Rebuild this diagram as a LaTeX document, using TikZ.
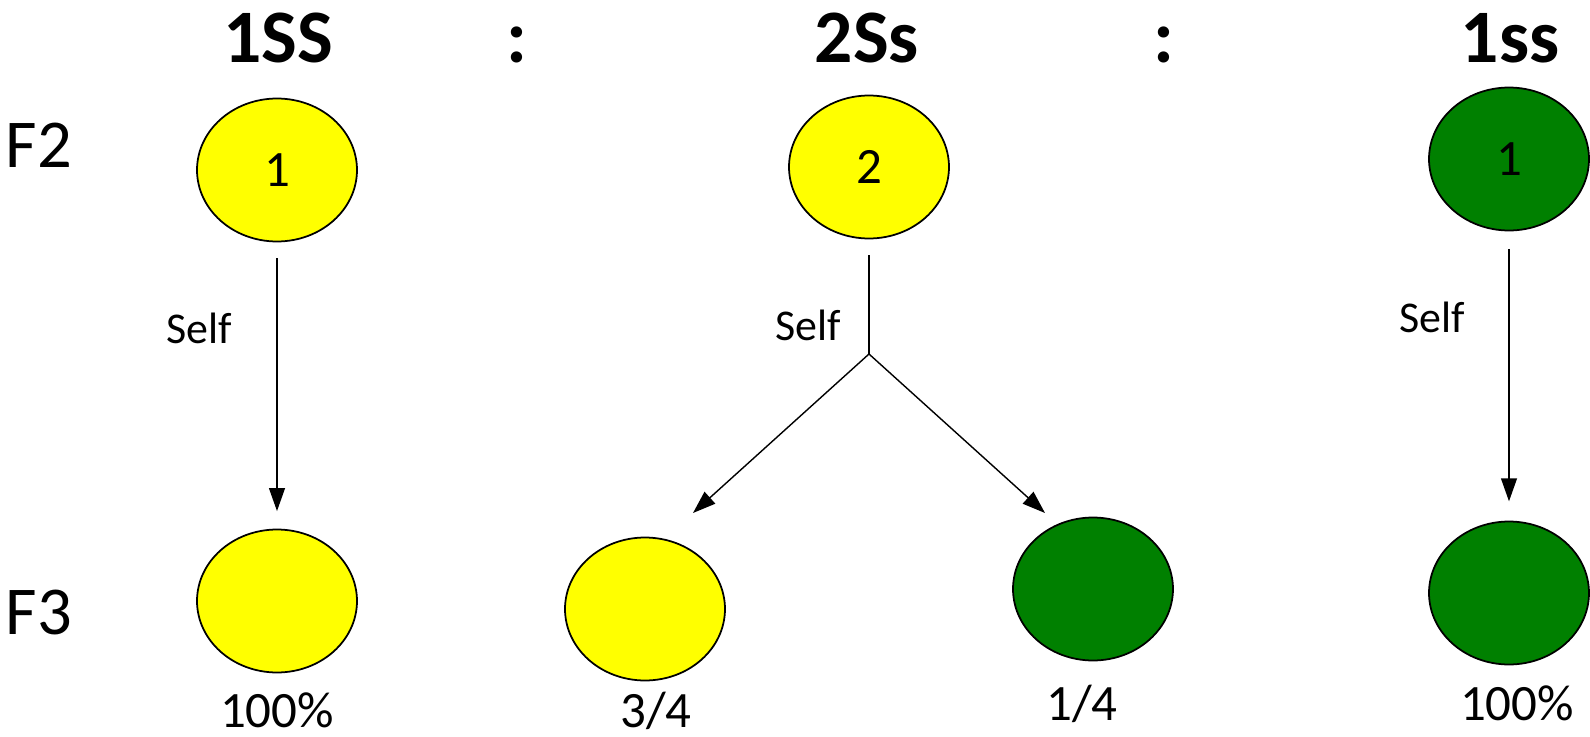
\documentclass[tikz,border=0pt]{standalone}
\usepackage{fontspec}
\setmainfont{Carlito}
\usetikzlibrary{shapes,arrows.meta,positioning}
\definecolor{seedgreen}{HTML}{008000}
\definecolor{seedyellow}{HTML}{FFFF00}
\tikzset{
    plant/.style={
    ellipse,draw=black,line width=1pt,minimum width=3.2cm,minimum height=2.86cm,inner sep=0pt,
    font=\fontsize{29}{34}\selectfont
    },
    yplant/.style={plant,fill=seedyellow},
    gplant/.style={plant,fill=seedgreen},
    geno/.style={anchor=base,font=\fontsize{43}{50}\selectfont\bfseries},
    gen/.style={anchor=base,font=\fontsize{39}{46}\selectfont},
    self/.style={anchor=base,font=\fontsize{25}{30}\selectfont},
    share/.style={anchor=base,font=\fontsize{29}{34}\selectfont},
    cross/.style={line width=0.8pt,-{Triangle[length=13pt,width=9pt]}},
}

\begin{document}
\begin{tikzpicture}[x=0.02cm,y=-0.02cm]
   \useasboundingbox (0,0) rectangle (1590,737);
   % genotype ratio along the top
   \node[geno] (SS)  at (278,62)  {1SS};
   \node[geno] (c1)  at (517,62)  {:};
   \node[geno] (Ss)  at (867,62)  {2Ss};
   \node[geno] (c2)  at (1164,62) {:};
   \node[geno] (ss)  at (1510,62) {1ss};
   \node[gen]  (F2)  at (39,167)  {F2};
   \node[gen]  (F3)  at (39,634)  {F3};

   % parents
   \node[yplant] (P1) at (277,170)  {1};
   \node[yplant] (P2) at (869,167)  {2};
   \node[gplant] (P3) at (1509,159) {1};

   % offspring
   \node[yplant] (K1) at (277,601)  {};
   \node[yplant] (K2) at (645,609)  {};
   \node[gplant] (K3) at (1093,589) {};
   \node[gplant] (K4) at (1509,593) {};

   \coordinate (fork) at (869,354);
   \coordinate (tipL) at (693,513);
   \coordinate (tipR) at (1045,513);

   \path[cross]
    (P1) edge [shorten <=9pt,shorten >=10pt] (K1)
    (P3) edge [shorten <=10pt,shorten >=11pt] (K4)
    (fork) edge (tipL)
    (fork) edge (tipR);
   \draw[line width=0.8pt,shorten <=9pt] (P2) -- (fork);

   \node[self]  (s1) at (199,343)  {Self};
   \node[self]  (s2) at (808,340)  {Self};
   \node[self]  (s3) at (1432,332) {Self};

   \node[share] (r1) at (277,727)  {100\%};
   \node[share] (r2) at (656,727)  {3/4};
   \node[share] (r3) at (1082,720) {1/4};
   \node[share] (r4) at (1517,720) {100\%};
\end{tikzpicture}
\end{document}
